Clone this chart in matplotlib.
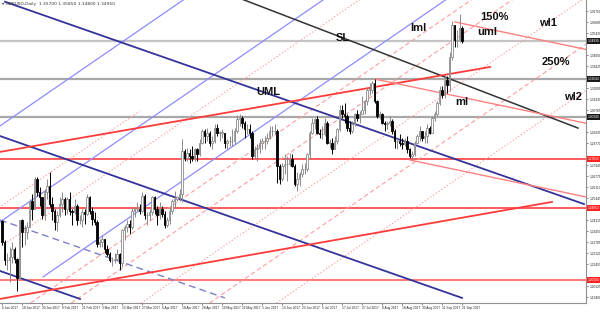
import numpy as np
import pandas as pd
import matplotlib
matplotlib.use("Agg")
import matplotlib.pyplot as plt
import matplotlib.transforms as mtransforms

# GBPUSD daily bars, 6 Jan 2017 .. 21 Sep 2017
dates = pd.bdate_range("2017-01-06", "2017-09-21")
first_open = 1.2405

closes = [
    # Jan
    1.2280, 1.2170, 1.2170, 1.2190, 1.2240, 1.2180, 1.2060, 1.2410, 1.2340, 1.2340,
    1.2370, 1.2530, 1.2480, 1.2660, 1.2580, 1.2550, 1.2440, 1.2580,
    # Feb
    1.2620, 1.2510, 1.2470, 1.2400, 1.2440, 1.2510, 1.2540, 1.2480, 1.2540, 1.2470,
    1.2460, 1.2500, 1.2410, 1.2410, 1.2460, 1.2450, 1.2550, 1.2470, 1.2420, 1.2400,
    # Mar
    1.2270, 1.2280, 1.2300, 1.2240, 1.2210, 1.2170, 1.2170, 1.2180, 1.2210, 1.2150,
    1.2350, 1.2370, 1.2390, 1.2370, 1.2470, 1.2480, 1.2480, 1.2470, 1.2560, 1.2440,
    1.2440, 1.2460, 1.2550,
    # Apr
    1.2480, 1.2440, 1.2480, 1.2450, 1.2380, 1.2410, 1.2470, 1.2530, 1.2540, 1.2550,
    1.2570, 1.2830, 1.2790, 1.2820, 1.2800, 1.2790, 1.2840, 1.2810, 1.2880, 1.2950,
    # May
    1.2920, 1.2940, 1.2880, 1.2890, 1.2970, 1.2940, 1.2940, 1.2940, 1.2880, 1.2890,
    1.2890, 1.2890, 1.2950, 1.3020, 1.3030, 1.3000, 1.2960, 1.2960, 1.2940, 1.2800,
    1.2840, 1.2850, 1.2880,
    # Jun
    1.2890, 1.2890, 1.2910, 1.2950, 1.2950, 1.2950, 1.2740, 1.2660, 1.2740, 1.2750,
    1.2750, 1.2780, 1.2740, 1.2630, 1.2660, 1.2690, 1.2720, 1.2720, 1.2810, 1.2940,
    1.3000, 1.3020,
    # Jul
    1.2940, 1.2930, 1.2930, 1.3000, 1.2880, 1.2880, 1.2840, 1.2890, 1.2960, 1.3080,
    1.3050, 1.3040, 1.2970, 1.2950, 1.2990, 1.3050, 1.3030, 1.3050, 1.3080, 1.3130,
    1.3200,
    # Aug
    1.3200, 1.3240, 1.3130, 1.3040, 1.3050, 1.3000, 1.2990, 1.3000, 1.3010, 1.2950,
    1.2890, 1.2890, 1.2880, 1.2870, 1.2890, 1.2840, 1.2800, 1.2810, 1.2880, 1.2920,
    1.2950, 1.2910, 1.2920,
    # Sep
    1.2970, 1.2940, 1.3030, 1.3050, 1.3120, 1.3200, 1.3170, 1.3260, 1.3230, 1.3400,
    1.3590, 1.3500, 1.3500, 1.3570, 1.3495,
]

highs = [
    1.2410, 1.2290, 1.2215, 1.2250, 1.2280, 1.2250, 1.2185, 1.2415, 1.2420, 1.2380,
    1.2400, 1.2540, 1.2570, 1.2670, 1.2675, 1.2610, 1.2550, 1.2600,
    1.2660, 1.2700, 1.2550, 1.2480, 1.2470, 1.2550, 1.2580, 1.2550, 1.2550, 1.2580,
    1.2480, 1.2540, 1.2510, 1.2440, 1.2480, 1.2480, 1.2570, 1.2560, 1.2490, 1.2460,
    1.2410, 1.2300, 1.2320, 1.2300, 1.2260, 1.2220, 1.2190, 1.2215, 1.2240, 1.2215,
    1.2360, 1.2380, 1.2410, 1.2410, 1.2490, 1.2490, 1.2520, 1.2510, 1.2580, 1.2570,
    1.2460, 1.2480, 1.2560,
    1.2560, 1.2500, 1.2520, 1.2500, 1.2470, 1.2430, 1.2490, 1.2540, 1.2590, 1.2560,
    1.2600, 1.2900, 1.2840, 1.2850, 1.2840, 1.2860, 1.2850, 1.2850, 1.2900, 1.2960,
    1.2960, 1.2970, 1.2950, 1.2920, 1.2990, 1.2990, 1.2950, 1.2960, 1.2940, 1.2900,
    1.2920, 1.2960, 1.2970, 1.3048, 1.3050, 1.3040, 1.3010, 1.2990, 1.2990, 1.2950,
    1.2860, 1.2870, 1.2900,
    1.2910, 1.2920, 1.2940, 1.2980, 1.2980, 1.2990, 1.2960, 1.2750, 1.2760, 1.2810,
    1.2800, 1.2820, 1.2810, 1.2750, 1.2700, 1.2700, 1.2750, 1.2760, 1.2820, 1.2950,
    1.3030, 1.3030,
    1.3040, 1.2960, 1.2980, 1.3030, 1.3010, 1.2900, 1.2910, 1.2920, 1.2970, 1.3110,
    1.3110, 1.3120, 1.3050, 1.3010, 1.3010, 1.3060, 1.3080, 1.3070, 1.3160, 1.3140,
    1.3210,
    1.3240, 1.3250, 1.3267, 1.3140, 1.3070, 1.3060, 1.3010, 1.3010, 1.3040, 1.3020,
    1.2960, 1.2910, 1.2930, 1.2910, 1.2910, 1.2920, 1.2850, 1.2830, 1.2890, 1.2930,
    1.2980, 1.2950, 1.2950,
    1.2990, 1.2980, 1.3040, 1.3070, 1.3130, 1.3225, 1.3220, 1.3290, 1.3280, 1.3430,
    1.3615, 1.3590, 1.3560, 1.3657, 1.3585,
]

lows = [
    1.2260, 1.2140, 1.2110, 1.2037, 1.2150, 1.2150, 1.1986, 1.2050, 1.2250, 1.2260,
    1.2300, 1.2370, 1.2410, 1.2480, 1.2560, 1.2500, 1.2420, 1.2410,
    1.2540, 1.2490, 1.2410, 1.2350, 1.2345, 1.2430, 1.2460, 1.2440, 1.2450, 1.2440,
    1.2380, 1.2450, 1.2380, 1.2390, 1.2370, 1.2390, 1.2440, 1.2450, 1.2380, 1.2380,
    1.2250, 1.2250, 1.2250, 1.2215, 1.2195, 1.2160, 1.2135, 1.2150, 1.2180, 1.2110,
    1.2130, 1.2290, 1.2340, 1.2330, 1.2360, 1.2430, 1.2470, 1.2450, 1.2460, 1.2420,
    1.2380, 1.2410, 1.2440,
    1.2450, 1.2380, 1.2420, 1.2430, 1.2365, 1.2370, 1.2390, 1.2450, 1.2490, 1.2530,
    1.2530, 1.2520, 1.2770, 1.2770, 1.2760, 1.2770, 1.2770, 1.2770, 1.2800, 1.2870,
    1.2880, 1.2890, 1.2860, 1.2840, 1.2880, 1.2920, 1.2890, 1.2910, 1.2850, 1.2840,
    1.2860, 1.2860, 1.2870, 1.2940, 1.2980, 1.2970, 1.2910, 1.2930, 1.2910, 1.2780,
    1.2790, 1.2770, 1.2820,
    1.2840, 1.2840, 1.2870, 1.2900, 1.2920, 1.2930, 1.2635, 1.2630, 1.2650, 1.2690,
    1.2650, 1.2740, 1.2730, 1.2620, 1.2590, 1.2620, 1.2670, 1.2690, 1.2710, 1.2780,
    1.2930, 1.2960,
    1.2930, 1.2910, 1.2900, 1.2920, 1.2870, 1.2850, 1.2810, 1.2840, 1.2870, 1.2950,
    1.3030, 1.3000, 1.2950, 1.2930, 1.2940, 1.2980, 1.3010, 1.3000, 1.3050, 1.3050,
    1.3110,
    1.3170, 1.3180, 1.3120, 1.3030, 1.3020, 1.2990, 1.2950, 1.2960, 1.2980, 1.2930,
    1.2850, 1.2840, 1.2860, 1.2840, 1.2860, 1.2820, 1.2790, 1.2775, 1.2800, 1.2870,
    1.2890, 1.2890, 1.2880,
    1.2880, 1.2930, 1.2940, 1.3010, 1.3040, 1.3110, 1.3150, 1.3150, 1.3180, 1.3190,
    1.3380, 1.3460, 1.3460, 1.3490, 1.3480,
]

opens = [first_open] + closes[:-1]

# horizontal levels
gray_levels = [1.34939, 1.32644, 1.30349]
red_levels = [1.27812, 1.24852, 1.20504]

# trend lines as (bar index, price) anchor pairs
navy_lines = [
    [(1.2, 1.3731), (232.8, 1.2509)],
    [(-0.8, 1.2920), (184.0, 1.1942)],
    [(-0.8, 1.2105), (31.2, 1.1936)],
]
navy_dashed = [(-0.8, 1.2413), (89.2, 1.1942)]
sl_line = [(79.2, 1.3844), (230.4, 1.2968)]
blue_lines = [
    [(-0.8, 1.2981), (78.3, 1.3802)],
    [(-0.8, 1.2401), (134.2, 1.3802)],
    [(16.4, 1.2069), (183.2, 1.3802)],
]
red_lines = [
    [(-0.8, 1.2824), (195.2, 1.3337)],   # UML
    [(-0.8, 1.1936), (220.0, 1.2522)],
]
pink_fork = [
    [(181.2, 1.3609), (233.6, 1.3443)],  # uml
    [(149.2, 1.3264), (233.6, 1.2997)],  # ml
    [(163.2, 1.2775), (233.6, 1.2552)],
]
pink_warn = [
    ([(-4.8, 1.2450), (55.0, 1.3070)], "dot"),
    ([(-4.8, 1.2208), (145.8, 1.3772)], "dot"),
    ([(11.4, 1.1911), (190.6, 1.3772)], "dash"),
    ([(27.7, 1.1911), (206.9, 1.3772)], "dash"),
    ([(55.6, 1.1911), (234.8, 1.3772)], "dot"),
    ([(83.0, 1.1911), (239.2, 1.3533)], "dash"),
    ([(109.8, 1.1911), (239.2, 1.3255)], "dot"),
]
labels = [
    ("SL", 136.4, 1.3512), ("UML", 106.4, 1.3186), ("lml", 166.4, 1.3572),
    ("uml", 194.0, 1.3548), ("ml", 184.0, 1.3126), ("150%", 196.8, 1.3639),
    ("wl1", 218.4, 1.3603), ("250%", 221.6, 1.3367), ("wl2", 228.4, 1.3156),
]

fig = plt.figure(figsize=(6.0, 3.13), dpi=100)
ax = fig.add_axes([0.0, 10 / 313, 586 / 600, 303 / 313])
ax.set_xlim(-0.8, 233.6)
ax.set_ylim(1.19114, 1.37416)


def seg(pts, **kw):
    xs, ys = zip(*pts)
    ax.plot(xs, ys, **kw)


for lvl in gray_levels:
    ax.axhline(lvl, color="#c4c4c4" if lvl == gray_levels[0] else "#a8a8a8", lw=1.6, zorder=1)
for lvl in red_levels:
    ax.axhline(lvl, color="#ff5a5a" if lvl != red_levels[-1] else "#ff7a7a", lw=1.4, zorder=1)

for pts, style in pink_warn:
    ls = (0, (1.2, 1.8)) if style == "dot" else (0, (4, 2.5))
    seg(pts, color="#ff9c9c", lw=0.8, ls=ls, zorder=1)
for pts in blue_lines:
    seg(pts, color="#8c8cff", lw=0.9, zorder=1)
for pts in navy_lines:
    seg(pts, color="#33339a", lw=1.3, zorder=2)
seg(navy_dashed, color="#7f7fc8", lw=1.0, ls=(0, (5, 3)), zorder=1)
seg(sl_line, color="#333333", lw=1.1, zorder=2)
for pts in red_lines:
    seg(pts, color="#ff3a3a", lw=1.3, zorder=2)
for pts in pink_fork:
    seg(pts, color="#ff8080", lw=1.0, zorder=2)

# candles
x = np.arange(len(closes))
o = np.array(opens)
c = np.array(closes)
h = np.array(highs)
l = np.array(lows)
up = c >= o
wick_col = np.where(up, "#8a8a8a", "#000000")
ax.vlines(x, l, h, colors=wick_col, lw=0.7, zorder=3)
body = np.maximum(np.abs(c - o), 0.00015)
ax.bar(x[up], body[up], bottom=np.minimum(o, c)[up], width=0.62,
       facecolor="white", edgecolor="#8a8a8a", lw=0.6, zorder=4)
ax.bar(x[~up], body[~up], bottom=np.minimum(o, c)[~up], width=0.62,
       facecolor="black", edgecolor="black", lw=0.6, zorder=4)

for txt, xi, yi in labels:
    ax.text(xi, yi, txt, fontsize=8, fontweight="bold", family="Liberation Sans",
            ha="center", va="center", color="#111111", zorder=6)

# header
ax.text(0.004, 0.993, f"\u25be GBPUSD,Daily  {opens[-1]:.5f} {highs[-1]:.5f} {lows[-1]:.5f} {closes[-1]:.5f}",
        transform=ax.transAxes, fontsize=3.2, va="top", ha="left", color="#333333", zorder=7)

# axes styling
for side in ["left", "top"]:
    ax.spines[side].set_visible(False)
for side in ["right", "bottom"]:
    ax.spines[side].set_color("#909090")
    ax.spines[side].set_linewidth(0.8)

small = dict(family="Liberation Sans", size=2.3)

ax.yaxis.tick_right()
boxed = gray_levels + red_levels
yt = [v for v in np.arange(1.19460, 1.3735, 0.00665)
      if min(abs(v - b) for b in boxed) > 0.0035]
ax.set_yticks(yt)
ax.set_yticklabels([f"{v:.5f}" for v in yt], fontdict=small)
ax.tick_params(axis="y", length=1.5, width=0.5, pad=0.8, colors="#555555", labelcolor="#222222")

xt = np.arange(0, len(dates), 8)
ax.set_xticks(xt)
ax.set_xticklabels([f"{dates[i].day} {dates[i]:%b %Y}" for i in xt], ha="left", fontdict=small)
ax.tick_params(axis="x", length=1.5, width=0.5, pad=1.0, colors="#555555", labelcolor="#222222")

trans = mtransforms.blended_transform_factory(ax.transAxes, ax.transData)
for lvl in gray_levels:
    ax.text(1.003, lvl, f"{lvl:.5f}", transform=trans, color="white", fontdict=small,
            va="center", ha="left", zorder=8, clip_on=False,
            bbox=dict(facecolor="#1a1a1a", edgecolor="none", pad=0.4))
for lvl in red_levels:
    ax.text(1.003, lvl, f"{lvl:.5f}", transform=trans, color="white", fontdict=small,
            va="center", ha="left", zorder=8, clip_on=False,
            bbox=dict(facecolor="#ff2020", edgecolor="none", pad=0.4))

fig.savefig("out.png", dpi=100, facecolor="white")
